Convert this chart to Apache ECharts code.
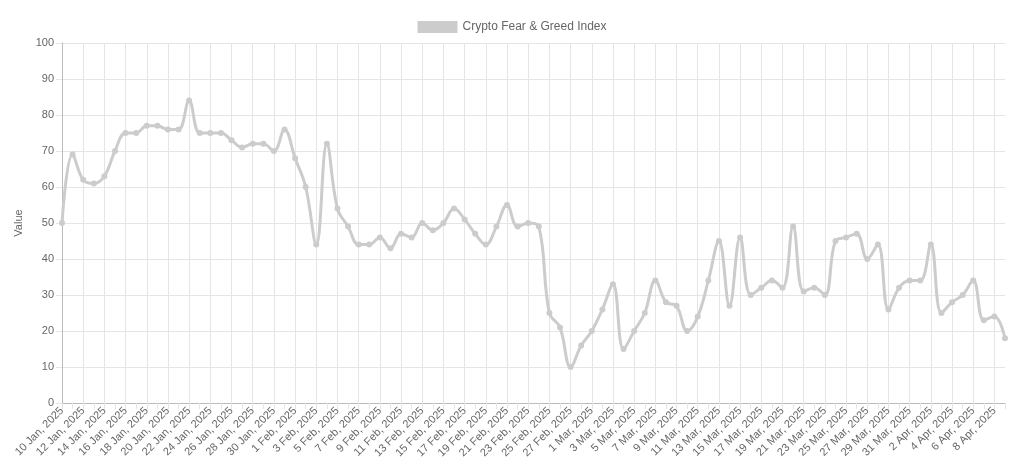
<!DOCTYPE html><html><head><meta charset="utf-8"><script src="https://cdn.jsdelivr.net/npm/echarts@6/dist/echarts.min.js"></script>
<style>html,body{margin:0;background:#fff}#c{width:1024px;height:470px}</style></head><body><div id="c"></div><script>
const months=[["Jan",10,31],["Feb",1,28],["Mar",1,31],["Apr",1,9]];
const categories=[];months.forEach(([m,a,b])=>{for(let d=a;d<=b;d++)categories.push(d+" "+m+", 2025");});
const values=[50,69,62,61,63,70,75,75,77,77,76,76,84,75,75,75,73,71,72,72,70,76,
68,60,44,72,54,49,44,44,46,43,47,46,50,48,50,54,51,47,44,49,55,49,50,49,25,21,10,16,
20,26,33,15,20,25,34,28,27,20,24,34,45,27,46,30,32,34,32,49,31,32,30,45,46,47,40,44,26,32,34,
34,44,25,28,30,34,23,24,18];
const seriesName="Crypto Fear & Greed Index";
const c=echarts.init(document.getElementById('c'));
c.setOption({animation:false,
legend:{top:16,itemWidth:40,itemHeight:12,icon:'rect',textStyle:{color:'#666',fontSize:12,fontFamily:'Liberation Sans'},data:[seriesName]},
grid:{left:62,right:19,top:43,bottom:67},
xAxis:{type:'category',boundaryGap:false,data:categories,
 axisLabel:{interval:1,rotate:45,color:'#666',fontSize:11,fontFamily:'Liberation Sans',margin:6},
 axisTick:{show:true,interval:0,length:6,lineStyle:{color:'#e5e5e5'}},
 axisLine:{lineStyle:{color:'#bbb'}},
 splitLine:{show:true,interval:1,lineStyle:{color:'#e5e5e5'}}},
yAxis:{type:'value',min:0,max:100,interval:10,name:'Value',nameLocation:'middle',nameGap:38,
 nameTextStyle:{color:'#666',fontSize:11,fontFamily:'Liberation Sans'},
 axisLabel:{color:'#666',fontSize:11,fontFamily:'Liberation Sans'},
 axisLine:{show:true,lineStyle:{color:'#bbb'}},axisTick:{show:true,length:6,lineStyle:{color:'#e5e5e5'}},
 splitLine:{lineStyle:{color:'#e5e5e5'}}},
series:[{name:seriesName,type:'line',data:values,smooth:0.4,symbol:'circle',symbolSize:6,
 itemStyle:{color:'#cccccc'},lineStyle:{color:'#cccccc',width:3}}]});
</script></body></html>
